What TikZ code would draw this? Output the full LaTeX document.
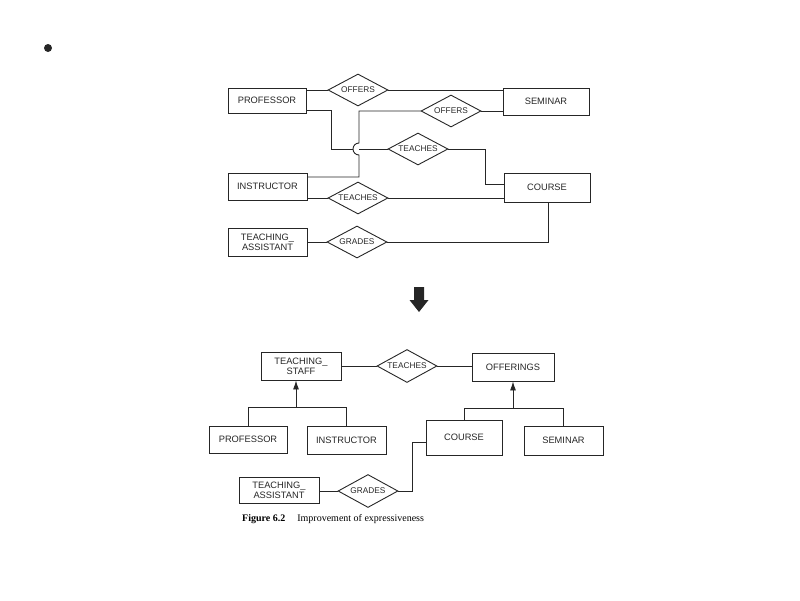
\documentclass[tikz,border=0pt]{standalone}
\usepackage{fontspec}
\setmainfont{Liberation Serif}
\newfontfamily\helv{Liberation Sans}
\usetikzlibrary{shapes.geometric,arrows.meta}

\tikzset{
  ent/.style={draw, rectangle, inner sep=1pt, align=center, line width=0.9pt,
    font=\helv\fontsize{9.3}{10}\selectfont},
  rel/.style={draw, diamond, aspect=1.9, inner sep=0pt, line width=0.9pt,
    minimum width=60pt, minimum height=32pt, font=\helv\fontsize{8.3}{9}\selectfont},
  lnk/.style={line width=0.9pt},
  isa/.style={line width=0.9pt, -{Latex[length=9pt,width=6pt]}}
}

\begin{document}
\begin{tikzpicture}[x=1pt,y=1pt,yscale=-1,xscale=1, color=black!85]
\useasboundingbox (0,0) rectangle (800,600);

%bullet
\fill (48,48) circle (4);

%Upper diagram: entities
\node [ent, minimum width=78pt, minimum height=25pt] (prof) at (267,100.5) {PROFESSOR};
\node [ent, minimum width=86pt, minimum height=27pt] (sem) at (546,101.5) {SEMINAR};
\node [ent, minimum width=79pt, minimum height=27pt] (instr) at (267.5,186.5) {INSTRUCTOR};
\node [ent, minimum width=86pt, minimum height=29pt] (course) at (547,187.5) {COURSE};
\node [ent, minimum width=79pt, minimum height=28pt] (ta) at (267.5,242) {TEACHING\_\\ASSISTANT};

%Upper diagram: relationships
\node [rel] (offA) at (358,90) {OFFERS};
\node [rel] (offB) at (451,111) {OFFERS};
\node [rel] (teachA) at (418,149) {TEACHES};
\node [rel] (teachB) at (358,198) {TEACHES};
\node [rel] (gradA) at (357,242) {GRADES};

%Upper diagram: links
\draw [lnk] (offA.west -| prof.east) -- (offA.west);
\draw [lnk] (offA.east) -- (offA.east -| sem.west);
\draw [lnk] (offB.east) -- (offB.east -| sem.west);
\draw [lnk] (prof.east |- 0,110) -- (331,110) -- (331,149) -- (353,149);
\draw [lnk] (359,149) -- (teachA.west);
\draw [lnk] (instr.east |- 0,177) -- (359,177) -- (359,155) arc (90:270:6) -- (359,111) -- (offB.west);
\draw [lnk] (teachA.east) -- (485,149) -- (485,184) -- (course.west |- 0,184);
\draw [lnk] (teachB.west -| instr.east) -- (teachB.west);
\draw [lnk] (teachB.east) -- (teachB.east -| course.west);
\draw [lnk] (ta.east) -- (gradA.west);
\draw [lnk] (gradA.east) -- (548,242) -- (548,242 |- course.south);

%Big arrow
\fill (414,287) -- (424,287) -- (424,300) -- (428.5,300) -- (419,312) -- (409.5,300) -- (414,300) -- cycle;

%Lower diagram: entities
\node [ent, minimum width=80pt, minimum height=28pt] (staff) at (301,366) {TEACHING\_\\STAFF};
\node [ent, minimum width=82pt, minimum height=28pt] (offer) at (513,367) {OFFERINGS};
\node [ent, minimum width=78pt, minimum height=27pt] (profB) at (248,439.5) {PROFESSOR};
\node [ent, minimum width=79pt, minimum height=28pt] (instrB) at (346.5,440) {INSTRUCTOR};
\node [ent, minimum width=76pt, minimum height=35pt] (courseB) at (464,437.5) {COURSE};
\node [ent, minimum width=79pt, minimum height=29pt] (semB) at (563.5,440.5) {SEMINAR};
\node [ent, minimum width=80pt, minimum height=26pt] (taB) at (279,490.5) {TEACHING\_\\ASSISTANT};

%Lower diagram: relationships
\node [rel, minimum height=33pt] (teachC) at (407,366) {TEACHES};
\node [rel, minimum height=33pt] (gradB) at (368,491) {GRADES};

%Lower diagram: links
\draw [lnk] (teachC.west -| staff.east) -- (teachC.west);
\draw [lnk] (teachC.east) -- (teachC.east -| offer.west);
\draw [lnk] (profB.north) |- (instrB.north |- 0,407) -- (instrB.north);
\coordinate (isaL) at (296,407);
\draw [isa] (isaL) -- (isaL |- staff.south);
\draw [lnk] (courseB.north) |- (semB.north |- 0,408) -- (semB.north);
\coordinate (isaR) at (513,408);
\draw [isa] (isaR) -- (isaR |- offer.south);
\draw [lnk] (gradB.west -| taB.east) -- (gradB.west);
\draw [lnk] (gradB.east) -- (412,491) -- (412,442) -- (courseB.west |- 0,442);

%Caption
\node [anchor=base west, inner sep=0pt, font=\fontsize{10}{11}\selectfont, text=black] (cap) at (242,521)
  {\textbf{Figure 6.2}\hspace{1.2em}Improvement of expressiveness};

\end{tikzpicture}
\end{document}
